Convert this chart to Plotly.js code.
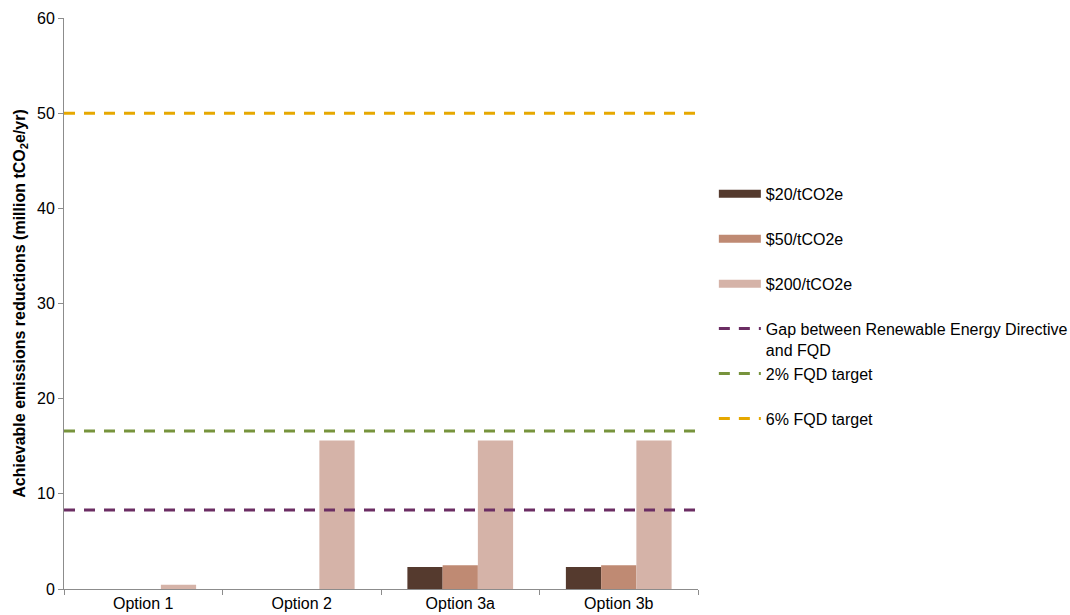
<!DOCTYPE html>
<html>
<head>
<meta charset="utf-8">
<script src="https://cdn.plot.ly/plotly-3.0.1.min.js"></script>
<style>html,body{margin:0;padding:0;background:#fff;}#chart{width:1070px;height:615px;}</style>
</head>
<body>
<div id="chart"></div>
<script>
const categories = ["Option 1", "Option 2", "Option 3a", "Option 3b"];
const price20 = [0, 0, 2.3, 2.3];
const price50 = [0, 0, 2.5, 2.5];
const price200 = [0.45, 15.6, 15.6, 15.6];
const barNames = ["$20/tCO2e", "$50/tCO2e", "$200/tCO2e"];
const barColors = ["#553a2e", "#bf8a73", "#d5b3a8"];

const targetNames = ["Gap between Renewable Energy Directive<br>and FQD", "2% FQD target", "6% FQD target"];
const targetValues = [8.3, 16.6, 50];
const targetColors = ["#6b2d63", "#77933c", "#e6a800"];

const fam = "Liberation Sans, Arial, sans-serif";
const font = {family: fam, size: 16, color: "#000"};

const legendIds = ["legend", "legend2", "legend3", "legend4", "legend5", "legend6"];

const traces = [];
[price20, price50, price200].forEach((vals, i) => {
  traces.push({
    type: "bar", x: categories, y: vals, name: barNames[i],
    marker: {color: barColors[i]}, showlegend: false, legendgroup: "b" + i,
    hoverinfo: "y"
  });
  // legend swatch drawn as a wide bar-like line
  traces.push({
    type: "scatter", mode: "lines", x: [null], y: [null], name: barNames[i],
    line: {color: barColors[i], width: 8}, legendgroup: "b" + i,
    legend: legendIds[i], xaxis: "x2", hoverinfo: "skip"
  });
});
targetValues.forEach((v, i) => {
  traces.push({
    type: "scatter", mode: "lines", x: [0, 1], y: [v, v], name: targetNames[i],
    line: {color: targetColors[i], width: 3, dash: "11px,9px"},
    xaxis: "x2", legendgroup: "t" + i, legend: legendIds[3 + i], hoverinfo: "y"
  });
});

const layout = {
  width: 1070, height: 615,
  margin: {l: 64, r: 372, t: 18, b: 26, autoexpand: false},
  paper_bgcolor: "#fff", plot_bgcolor: "#fff",
  font: font,
  barmode: "group", bargap: 0.333, bargroupgap: 0,
  showlegend: true,
  xaxis: {
    type: "category", range: [-0.5, 3.5],
    showline: true, linecolor: "#8c8c8c", linewidth: 1,
    ticks: "outside", ticklen: 5, tickcolor: "#8c8c8c", tickson: "boundaries",
    showgrid: false, zeroline: false, tickfont: font, fixedrange: true
  },
  xaxis2: {
    overlaying: "x", range: [0, 1], visible: false, fixedrange: true
  },
  yaxis: {
    range: [0, 60], dtick: 10, tick0: 0,
    showline: true, linecolor: "#8c8c8c", linewidth: 1,
    ticks: "outside", ticklen: 5, tickcolor: "#8c8c8c",
    showgrid: false, zeroline: false, tickfont: font,
    title: {text: "<b>Achievable emissions reductions (million tCO<sub>2</sub>e/yr)</b>", font: {family: fam, size: 16, color: "#000"}, standoff: 7},
    fixedrange: true
  }
};

legendIds.forEach((id, i) => {
  layout[id] = {
    x: 1.025, xanchor: "left", y: 0.722 - i * 0.0788, yanchor: "top",
    font: font, valign: "top", itemwidth: 42,
    bgcolor: "rgba(0,0,0,0)"
  };
});

Plotly.newPlot("chart", traces, layout, {displayModeBar: false, staticPlot: true});
</script>
</body>
</html>
